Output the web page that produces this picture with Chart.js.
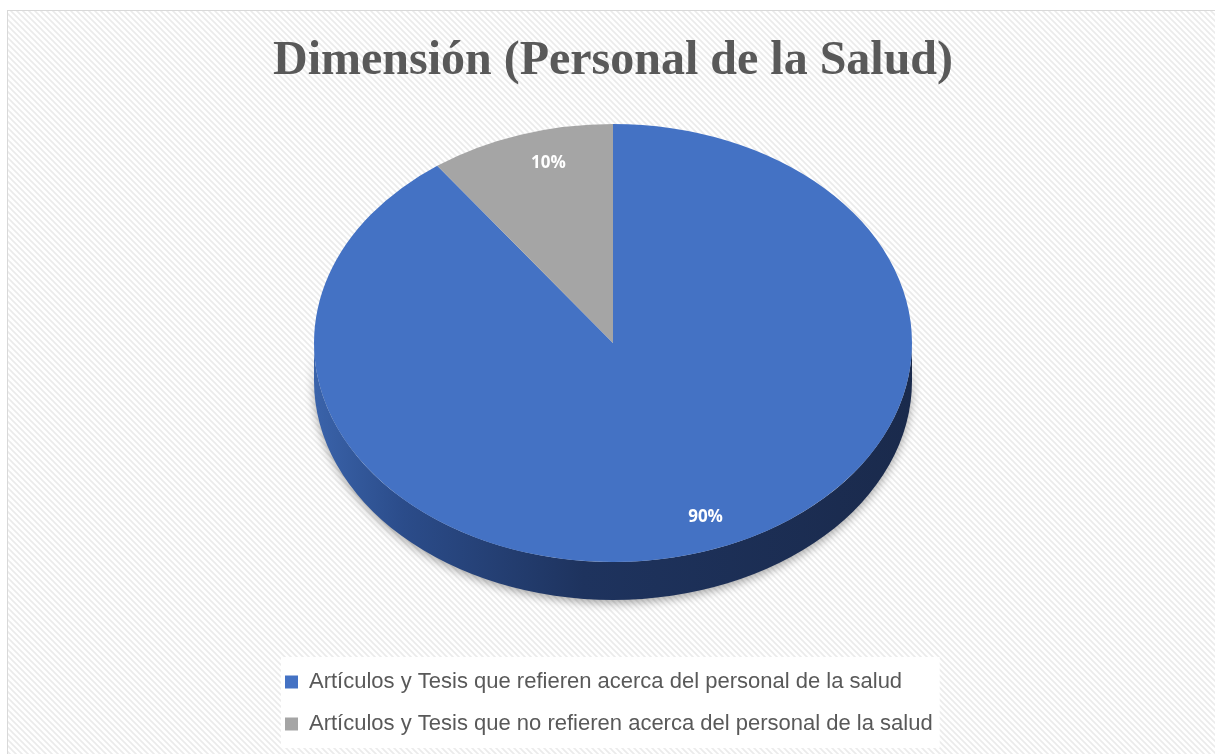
<!DOCTYPE html>
<html>
<head>
<meta charset="utf-8">
<title>Dimensión (Personal de la Salud)</title>
<script src="https://cdn.jsdelivr.net/npm/chart.js@4.4.1/dist/chart.umd.min.js"></script>
<style>
  body { margin: 0; background: #fff; }
  canvas { display: block; }
</style>
</head>
<body>
<canvas id="myChart" width="1215" height="754"></canvas>
<script>
const chartTitle = 'Dimensión (Personal de la Salud)';
const sliceLabels = [
    'Artículos y Tesis que refieren acerca del personal de la salud',
    'Artículos y Tesis que no refieren acerca del personal de la salud'
];
const sliceValues = [90, 10];
const sliceColors = ['#4472c4', '#a5a5a5'];
// darker shades for the edge of the "3d" pie, left to right
const sideShades = [
    ['#3a63aa', '#2b4c8a', '#1e335e', '#1a2a4c'],
    ['#8c8c8c', '#727272', '#5a5a5a', '#525252']
];

// where the flattened pie sits on the page
const pieX = 613, pieY = 343, pieRX = 299, pieRY = 219, pieDepth = 38;

// diagonal hatch used for the chart background
function makeHatch() {
    const c = document.createElement('canvas');
    c.width = 6; c.height = 6;
    const g = c.getContext('2d');
    g.fillStyle = '#ffffff';
    g.fillRect(0, 0, 6, 6);
    g.strokeStyle = '#ebebeb';
    g.lineWidth = 1.6;
    [[-3, -3, 9, 9], [-3, 3, 3, 9], [3, -3, 9, 3]].forEach(([a, b, c2, d]) => {
        g.beginPath(); g.moveTo(a, b); g.lineTo(c2, d); g.stroke();
    });
    return c;
}

const backgroundPlugin = {
    id: 'background',
    beforeDraw(chart) {
        const ctx = chart.ctx;
        ctx.save();
        ctx.fillStyle = '#ffffff';
        ctx.fillRect(0, 0, chart.width, chart.height);
        ctx.fillStyle = ctx.createPattern(makeHatch(), 'repeat');
        ctx.fillRect(7, 10, chart.width - 7, chart.height - 10);
        ctx.strokeStyle = '#d9d9d9';
        ctx.lineWidth = 1;
        ctx.strokeRect(7.5, 10.5, chart.width, chart.height);

        // white panel behind the legend
        const boxes = chart.legend.legendHitBoxes;
        if (boxes.length) {
            const left = Math.min(...boxes.map(b => b.left)) - 4;
            const right = Math.max(...boxes.map(b => b.left + b.width)) + 7;
            const top = Math.min(...boxes.map(b => b.top)) - 14;
            const bottom = Math.max(...boxes.map(b => b.top + b.height)) + 13;
            ctx.fillStyle = '#ffffff';
            ctx.fillRect(left, top, right - left, bottom - top);
        }
        ctx.restore();
    }
};

// squash the library's pie into an ellipse and give it a thick edge
const pie3dPlugin = {
    id: 'pie3d',
    beforeDatasetsDraw(chart) {
        const ctx = chart.ctx;
        const arcs = chart.getDatasetMeta(0).data;
        const {x, y, outerRadius: r} = arcs[0];
        const d = pieDepth * r / pieRY;

        ctx.save();
        ctx.translate(pieX, pieY);
        ctx.scale(pieRX / r, pieRY / r);
        ctx.translate(-x, -y);

        arcs.forEach((arc, i) => {
            const ranges = [[0, Math.PI], [2 * Math.PI, 3 * Math.PI]];
            ranges.forEach(([lo, hi]) => {
                const a = Math.max(arc.startAngle, lo);
                const b = Math.min(arc.endAngle, hi);
                if (b <= a) return;
                const grad = ctx.createLinearGradient(x - r, 0, x + r, 0);
                const shades = sideShades[i];
                grad.addColorStop(0, shades[0]);
                grad.addColorStop(0.15, shades[1]);
                grad.addColorStop(0.45, shades[2]);
                grad.addColorStop(1, shades[3]);
                ctx.save();
                ctx.shadowColor = 'rgba(0,0,0,0.35)';
                ctx.shadowBlur = 10;
                ctx.shadowOffsetY = 3;
                ctx.beginPath();
                ctx.arc(x, y, r, a, b);
                ctx.arc(x, y + d, r, b, a, true);
                ctx.closePath();
                ctx.fillStyle = grad;
                ctx.fill();
                ctx.restore();
            });
        });
    },
    afterDatasetsDraw(chart) {
        const ctx = chart.ctx;
        ctx.restore();

        const arcs = chart.getDatasetMeta(0).data;
        const total = sliceValues.reduce((s, v) => s + v, 0);
        ctx.save();
        ctx.font = 'bold 17px "Open Sans"';
        ctx.fillStyle = '#ffffff';
        ctx.textAlign = 'center';
        ctx.textBaseline = 'middle';
        arcs.forEach((arc, i) => {
            const mid = (arc.startAngle + arc.endAngle) / 2;
            const lx = pieX + pieRX * 0.85 * Math.cos(mid) + 14;
            const ly = pieY + pieRY * 0.85 * Math.sin(mid) - 3;
            ctx.fillText(Math.round(sliceValues[i] / total * 100) + '%', lx, ly);
        });
        ctx.restore();
    }
};

const ctx = document.getElementById('myChart');

new Chart(ctx, {
    type: 'pie',
    data: {
        labels: sliceLabels,
        datasets: [{
            data: sliceValues,
            backgroundColor: sliceColors,
            borderWidth: 0
        }]
    },
    options: {
        responsive: false,
        animation: false,
        events: [],
        layout: {
            padding: { top: 10, left: 265, right: 254, bottom: 9 }
        },
        plugins: {
            title: {
                display: true,
                text: chartTitle,
                color: '#595959',
                font: { family: '"Liberation Serif", "Times New Roman", serif', size: 48, weight: 'bold' },
                padding: { top: 23, bottom: 10 }
            },
            legend: {
                position: 'bottom',
                align: 'start',
                labels: {
                    color: '#595959',
                    boxWidth: 13,
                    boxHeight: 13,
                    padding: 20,
                    font: { family: '"Liberation Sans", Arial, sans-serif', size: 22 }
                }
            },
            tooltip: { enabled: false }
        }
    },
    plugins: [backgroundPlugin, pie3dPlugin]
});
</script>
</body>
</html>
